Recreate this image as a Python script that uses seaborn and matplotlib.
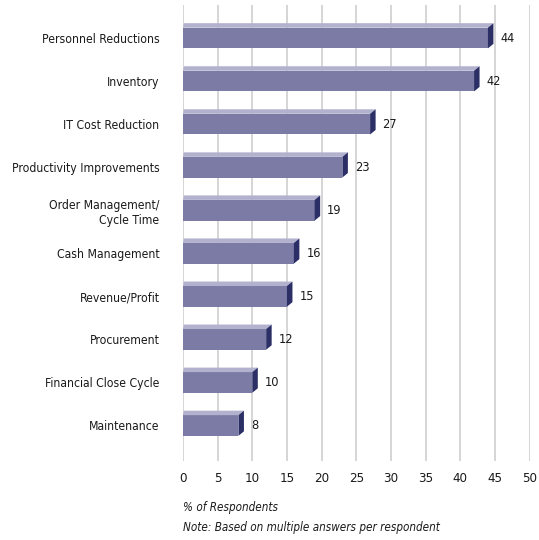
import matplotlib
matplotlib.use("Agg")
import matplotlib.pyplot as plt
from matplotlib import font_manager as fm
from matplotlib.patches import Polygon
import seaborn as sns
import pandas as pd

categories = [
    "Personnel Reductions",
    "Inventory",
    "IT Cost Reduction",
    "Productivity Improvements",
    "Order Management/\nCycle Time",
    "Cash Management",
    "Revenue/Profit",
    "Procurement",
    "Financial Close Cycle",
    "Maintenance",
]
values = [44, 42, 27, 23, 19, 16, 15, 12, 10, 8]
x_ticks = [0, 5, 10, 15, 20, 25, 30, 35, 40, 45, 50]

df = pd.DataFrame({"category": categories, "pct": values})

sns.set_theme(style="white")

# prefer a narrow sans face if one is installed
narrow = None
for f in fm.fontManager.ttflist:
    if f.stretch in ("condensed", "semi-condensed", "extra-condensed") or \
            any(k in f.name for k in ("Narrow", "Condensed")):
        narrow = f.name
        break
if narrow:
    plt.rcParams["font.family"] = [narrow, "DejaVu Sans"]
    plt.rcParams["font.stretch"] = "condensed"
    SZ_CAT, SZ_NUM, SZ_NOTE = 8.7, 9.2, 8.4
else:
    plt.rcParams["font.family"] = ["Liberation Sans", "DejaVu Sans"]
    SZ_CAT, SZ_NUM, SZ_NOTE = 8.0, 8.8, 7.8

FRONT = "#7b7ba6"
TOP = "#b2b2cf"
SIDE = "#2b2f66"
INK = "#1a1a1a"

fig = plt.figure(figsize=(5.39, 5.40), dpi=100)
ax = fig.add_axes([183 / 539, 1 - 460.7 / 540, (529.5 - 183) / 539, (460.7 - 5) / 540])

sns.barplot(data=df, x="pct", y="category", orient="h", color=FRONT,
            saturation=1, width=0.48, ax=ax, zorder=3)

ax.set_xlim(0, 50)
ax.set_ylim(9.818, -0.767)
ax.set_xticks(x_ticks)
ax.set_xticklabels([str(t) for t in x_ticks], fontsize=SZ_NUM + 0.3)
ax.tick_params(axis="y", length=0, pad=17, labelsize=SZ_CAT)
ax.tick_params(axis="x", length=0, pad=8)
ax.set_xlabel("")
ax.set_ylabel("")
for s in ax.spines.values():
    s.set_visible(False)
ax.grid(axis="x", color="#d2d2d2", linewidth=1.3, zorder=0)
ax.grid(axis="y", visible=False)
ax.set_axisbelow(True)

# 3D bevel: depth offsets expressed in data units
dx = 5.5 / ((529.5 - 183) / 50)
dy = 4.5 / 43.05
for bar, v in zip(ax.patches, values):
    bar.set_edgecolor("none")
    y0 = bar.get_y()
    y1 = y0 + bar.get_height()
    w = bar.get_width()
    top = Polygon([(0, y0), (w, y0), (w + dx, y0 - dy), (0.12, y0 - dy)],
                  closed=True, facecolor=TOP, edgecolor="none", zorder=3)
    side = Polygon([(w, y0), (w + dx, y0 - dy), (w + dx, y1 - dy), (w, y1)],
                   closed=True, facecolor=SIDE, edgecolor="none", zorder=3)
    ax.add_patch(top)
    ax.add_patch(side)
    ax.annotate(str(v), xy=(w, (y0 + y1) / 2), xytext=(12.5, 0),
                textcoords="offset pixels", ha="left", va="center",
                fontsize=SZ_NUM, color=INK)

for lab in ax.get_yticklabels() + ax.get_xticklabels():
    lab.set_color(INK)

fig.text(183 / 539, 1 - 508 / 540, "% of Respondents", fontsize=SZ_NOTE,
         style="italic", ha="left", va="center", color=INK)
fig.text(183 / 539, 1 - 528 / 540, "Note: Based on multiple answers per respondent",
         fontsize=SZ_NOTE, style="italic", ha="left", va="center", color=INK)

fig.savefig("out.png", dpi=100)
